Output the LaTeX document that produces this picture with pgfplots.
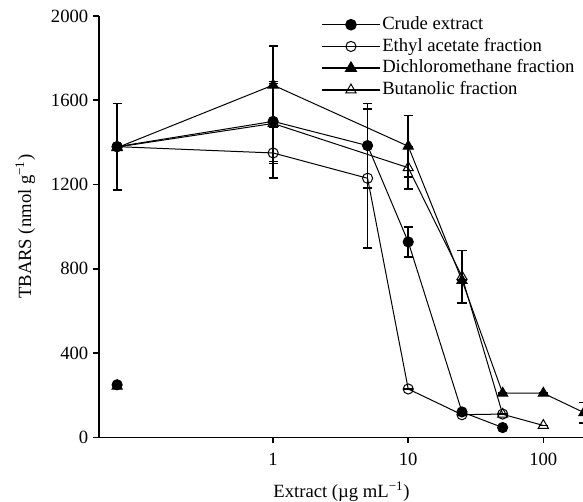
\documentclass[border=0pt]{standalone}
\usepackage{fontspec}
\setmainfont{Liberation Serif}
\usepackage{pgfplots}
\pgfplotsset{compat=1.18}
\begin{document}
\begin{tikzpicture}[font=\fontsize{14}{16}\selectfont]
\begin{axis}[
  scale only axis, width=363.75pt, height=316.1pt,
  xmode=log, xmin=0.0514, xmax=200, ymin=0, ymax=2000,
  axis x line=bottom, axis y line=left,
  axis line style={-, line width=1.2pt},
  tick align=outside, major tick length=4.5pt,
  tick style={line width=1.2pt, black},
  xtick={1,10,100}, xticklabels={1,10,100}, xminorticks=false,
  ytick={0,400,800,1200,1600,2000}, yminorticks=false,
  xticklabel style={yshift=-4pt},
  /pgf/number format/assume math mode=true,
  /pgf/number format/1000 sep={},
  xlabel={Extract (µg mL\textsuperscript{−1})},
  ylabel={TBARS (nmol g\textsuperscript{−1})},
  xlabel style={yshift=-5pt},
  ylabel style={yshift=5pt},
  clip=false,
  every axis plot/.append style={black, line width=0.75pt},
  error bars/y dir=both, error bars/y explicit,
  error bars/error bar style={line width=1.2pt},
  error bars/error mark options={rotate=90, mark size=3.4pt, line width=1.2pt},
  legend style={draw=none, fill=none, at={(0.449,1.01)}, anchor=north west, row sep=1.3pt,
    nodes={inner sep=1pt, text height=10pt, text depth=3pt}},
  legend cell align=left, reverse legend,
  legend image code/.code={\draw[mark repeat=2,mark phase=2,#1,line width=1.1pt] plot coordinates {(0cm,0cm) (0.77cm,0cm) (1.54cm,0cm)};},
]
% Butanolic
\addplot[mark=triangle, mark size=4.4pt, mark options={fill=white, line width=0.75pt}] coordinates {
 (0.07,1378) +- (0,0) (1,1490) +- (0,190) (10,1280) +- (0,100) (25,763) +- (0,125) (50,110) +- (0,0) (100,57) +- (0,0)};
\addlegendentry{Butanolic fraction}
% Dichloromethane
\addplot[mark=triangle*, mark size=4.4pt, mark options={fill=black}] coordinates {
 (0.07,1375) +- (0,0) (1,1672) +- (0,185) (10,1382) +- (0,145) (25,745) +- (0,0) (50,210) +- (0,0) (100,210) +- (0,0) (200,118) +- (0,48)};
\addlegendentry{Dichloromethane fraction}
% Ethyl acetate
\addplot[mark=o, mark size=3.8pt, mark options={fill=white, line width=0.75pt}] coordinates {
 (0.07,1380) +- (0,0) (1,1350) +- (0,120) (5,1230) +- (0,330) (10,230) +- (0,0) (25,108) +- (0,0) (50,111) +- (0,0)};
\addlegendentry{Ethyl acetate fraction}
% Crude
\addplot[mark=*, mark size=3.8pt, mark options={fill=black}] coordinates {
 (0.07,1380) +- (0,205) (1,1500) +- (0,190) (5,1385) +- (0,200) (10,928) +- (0,72) (25,121) +- (0,0) (50,47) +- (0,0)};
\addlegendentry{Crude extract}
\addplot[only marks, mark=triangle*, mark size=4.4pt, forget plot] coordinates {(0.07,243)};
\addplot[only marks, mark=*, mark size=3.8pt, forget plot] coordinates {(0.07,250)};
\end{axis}
\pgfresetboundingbox
\useasboundingbox ([shift={(-74.25pt,-48.4pt)}]current axis.south west) rectangle ([shift={(363pt,328.1pt)}]current axis.south west);
\end{tikzpicture}
\end{document}
